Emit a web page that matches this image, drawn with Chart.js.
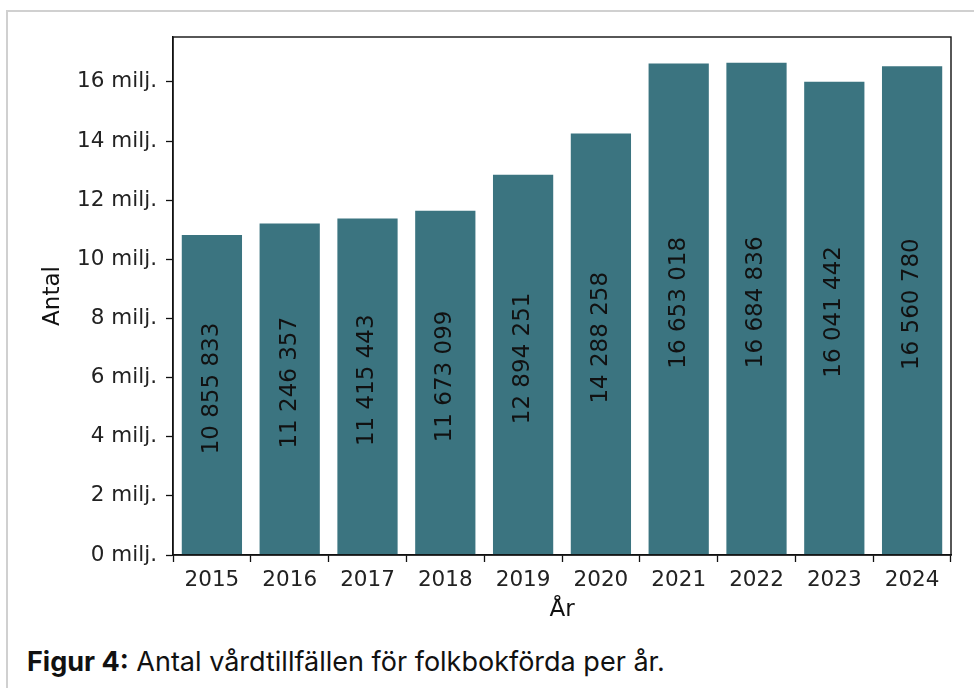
<!DOCTYPE html>
<html>
<head>
<meta charset="utf-8">
<script src="https://cdn.jsdelivr.net/npm/chart.js@4/dist/chart.umd.min.js"></script>
<style>
  html, body { margin: 0; padding: 0; background: #fff; }
  body { width: 974px; height: 688px; position: relative; overflow: hidden; }
  #frame { position: absolute; left: 6px; top: 10px; width: 1000px; height: 700px;
           border-top: 2px solid #d0d0d0; border-left: 2px solid #d0d0d0; }
  #wrap { position: absolute; left: 0; top: 0; width: 974px; height: 640px; }
  #caption { position: absolute; left: 27px; top: 645px; font-family: Inter, "Noto Sans", sans-serif;
             font-size: 27px; color: #111; white-space: nowrap; }
</style>
</head>
<body>
<div id="frame"></div>
<div id="wrap"><canvas id="chart" width="974" height="640"></canvas></div>
<div id="caption"><b>Figur 4:</b> Antal vårdtillfällen för folkbokförda per år.</div>
<script>
const years = ["2015", "2016", "2017", "2018", "2019", "2020", "2021", "2022", "2023", "2024"];
const counts = [10855833, 11246357, 11415443, 11673099, 12894251, 14288258, 16653018, 16684836, 16041442, 16560780];
const yTicks = [0, 2, 4, 6, 8, 10, 12, 14, 16]; // miljoner
const tickFont = { family: "DejaVu Sans", size: 21.5 };
const barColor = "#3b7480";

// spaces as thousand separators, like "10 855 833"
function fmt(n) {
  return String(n).replace(/\B(?=(\d{3})+(?!\d))/g, " ");
}

const boxAndLabels = {
  id: "boxAndLabels",
  afterDatasetsDraw(chart) {
    const ctx = chart.ctx;
    const meta = chart.getDatasetMeta(0);
    const y = chart.scales.y;
    ctx.save();
    ctx.fillStyle = "#111";
    ctx.font = "23px 'DejaVu Sans'";
    ctx.textAlign = "center";
    ctx.textBaseline = "middle";
    meta.data.forEach((bar, i) => {
      const cy = y.getPixelForValue(counts[i] / 2) - 6;
      ctx.save();
      ctx.translate(bar.x, cy);
      ctx.rotate(-Math.PI / 2);
      ctx.fillText(fmt(counts[i]), 0, 0);
      ctx.restore();
    });
    const a = chart.chartArea;
    ctx.strokeStyle = "#111";
    ctx.lineWidth = 1.4;
    ctx.strokeRect(a.left, a.top, a.right - a.left, a.bottom - a.top);
    ctx.restore();
  }
};

new Chart(document.getElementById("chart"), {
  type: "bar",
  data: {
    labels: years,
    datasets: [{
      data: counts,
      backgroundColor: barColor,
      borderColor: "rgba(255,255,255,0.35)",
      borderWidth: 1,
      barPercentage: 0.8,
      categoryPercentage: 1.0
    }]
  },
  options: {
    responsive: false,
    animation: false,
    layout: { padding: { left: 0, right: 23, top: 37, bottom: 0 } },
    plugins: { legend: { display: false }, tooltip: { enabled: false } },
    scales: {
      x: {
        afterFit: s => { s.height = 85; },
        grid: { drawOnChartArea: false, tickLength: 7, color: "#111", tickWidth: 1.3 },
        border: { color: "#111", width: 1.4 },
        ticks: { font: tickFont, color: "#222", padding: 6 },
        title: { display: true, text: "År", font: { family: "DejaVu Sans", size: 23 }, color: "#111",
                 padding: { top: 16, bottom: 16 } }
      },
      y: {
        min: 0,
        max: Math.max(...counts) * 1.05,
        afterFit: s => { s.width = 173; },
        afterBuildTicks: s => { s.ticks = yTicks.map(v => ({ value: v * 1000000 })); },
        grid: { drawOnChartArea: false, tickLength: 7, color: "#111", tickWidth: 1.3 },
        border: { color: "#111", width: 1.4 },
        ticks: { font: tickFont, color: "#222", padding: 9,
                 callback: v => (v / 1000000) + " milj." },
        title: { display: true, text: "Antal", font: { family: "DejaVu Sans", size: 23 }, color: "#111",
                 padding: { top: 39, bottom: 39 } }
      }
    }
  },
  plugins: [boxAndLabels]
});
</script>
</body>
</html>
